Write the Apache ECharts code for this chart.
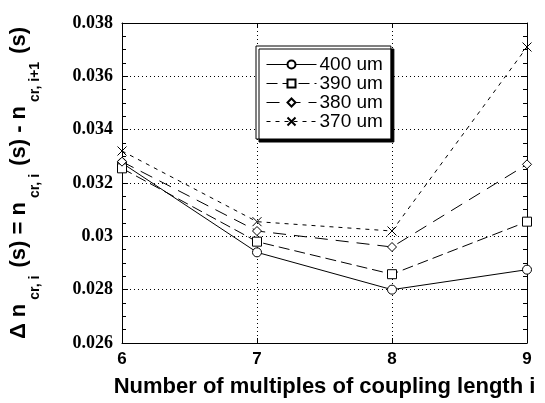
<!DOCTYPE html>
<html><head><meta charset="utf-8">
<script src="https://cdn.jsdelivr.net/npm/echarts@6/dist/echarts.min.js"></script>
<style>html,body{margin:0;padding:0;background:#fff}#c{width:545px;height:403px}</style>
</head><body><div id="c"></div>
<script>
var xValues = [6, 7, 8, 9];
var seriesNames = ['400 um', '390 um', '380 um', '370 um'];
var s400 = [0.03275, 0.0294, 0.0280, 0.02875];
var s390 = [0.03255, 0.0298, 0.02858, 0.03055];
var s380 = [0.0328, 0.0302, 0.0296, 0.0327];
var s370 = [0.0332, 0.03055, 0.0302, 0.0371];
var yTicks = ['0.026', '0.028', '0.03', '0.032', '0.034', '0.036', '0.038'];

var seriesValues = [s400, s390, s380, s370];
var symbols = ['circle', 'rect', 'diamond', 'path://M0,0L10,10M10,0L0,10'];
var dashes = ['solid', [11, 5], [13, 8], [4, 5]];
var symSizes = [9, 9, 9, 9];

var chart = echarts.init(document.getElementById('c'));
var series = seriesValues.map(function (vals, k) {
  return {
    name: seriesNames[k],
    type: 'line',
    data: xValues.map(function (x, i) { return [x, vals[i]]; }),
    symbol: symbols[k],
    symbolSize: symSizes[k],
    showAllSymbol: true,
    lineStyle: { color: '#000', width: 1, type: dashes[k] },
    itemStyle: { color: k === 3 ? 'none' : '#fff', borderColor: '#000', borderWidth: 1 },
    z: 5
  };
});

chart.setOption({
  animation: false,
  backgroundColor: '#fff',
  grid: { left: 120, right: 18, top: 23, bottom: 59 },
  legend: {
    orient: 'vertical',
    left: 256, top: 46,
    data: seriesNames,
    itemWidth: 50, itemHeight: 10, itemGap: 0,
    padding: [9, 8, 8, 10],
    backgroundColor: '#fff',
    borderColor: '#000', borderWidth: 1,
    shadowColor: '#000', shadowBlur: 0, shadowOffsetX: 3, shadowOffsetY: 3,
    lineStyle: { width: 1 },
    textStyle: { fontFamily: 'Liberation Sans', fontSize: 19, lineHeight: 16, color: '#000', padding: [0, 0, 0, -2] }
  },
  xAxis: [{
    type: 'value', min: 6, max: 9, interval: 1,
    name: 'Number of multiples of coupling length i',
    nameLocation: 'middle', nameGap: 33,
    nameTextStyle: { fontFamily: 'Liberation Sans', fontWeight: 'bold', fontSize: 22, color: '#000' },
    axisLine: { lineStyle: { color: '#000', width: 1 } },
    axisTick: { inside: true, length: 5, lineStyle: { color: '#000' } },
    axisLabel: { fontFamily: 'Liberation Sans', fontWeight: 'bold', fontSize: 17, color: '#000', margin: 8 },
    splitLine: { show: true, lineStyle: { color: '#000', type: [1, 3], width: 1 } }
  }, {
    type: 'value', min: 6, max: 9, interval: 1, position: 'top',
    axisLine: { show: true, lineStyle: { color: '#000', width: 1 } },
    axisTick: { inside: true, length: 5, lineStyle: { color: '#000' } },
    axisLabel: { show: false }, splitLine: { show: false }
  }],
  yAxis: [{
    type: 'value', min: 0.026, max: 0.038, interval: 0.002,
    name: '{m|Δ n}{s|cr, i}{m| (s) = n}{s|cr, i}{m| (s) - n}{s|cr, i+1}{m| (s)}',
    nameLocation: 'middle', nameGap: 80, nameRotate: 90,
    nameTextStyle: {
      color: '#000',
      rich: {
        m: { fontFamily: 'Liberation Sans', fontWeight: 'bold', fontSize: 22, lineHeight: 46, verticalAlign: 'middle', color: '#000' },
        s: { fontFamily: 'Liberation Sans', fontWeight: 'bold', fontSize: 14, lineHeight: 14, verticalAlign: 'bottom', color: '#000', padding: [0, 2, 0, 4] }
      }
    },
    axisLine: { show: true, lineStyle: { color: '#000', width: 1 } },
    axisTick: { inside: true, length: 6, lineStyle: { color: '#000' } },
    minorTick: { show: true, splitNumber: 4, length: 4, lineStyle: { color: '#000' } },
    axisLabel: {
      fontFamily: 'Liberation Serif', fontWeight: 'bold', fontSize: 18, color: '#000', margin: 9,
      formatter: function (v) { return yTicks[Math.round((v - 0.026) / 0.002)]; }
    },
    splitLine: { show: true, lineStyle: { color: '#000', type: [1, 3], width: 1 } }
  }, {
    type: 'value', min: 0.026, max: 0.038, interval: 0.002, position: 'right',
    axisLine: { show: true, lineStyle: { color: '#000', width: 1 } },
    axisTick: { inside: true, length: 6, lineStyle: { color: '#000' } },
    minorTick: { show: true, splitNumber: 4, length: 4, lineStyle: { color: '#000' } },
    axisLabel: { show: false }, splitLine: { show: false }
  }],
  series: series
});
</script></body></html>
